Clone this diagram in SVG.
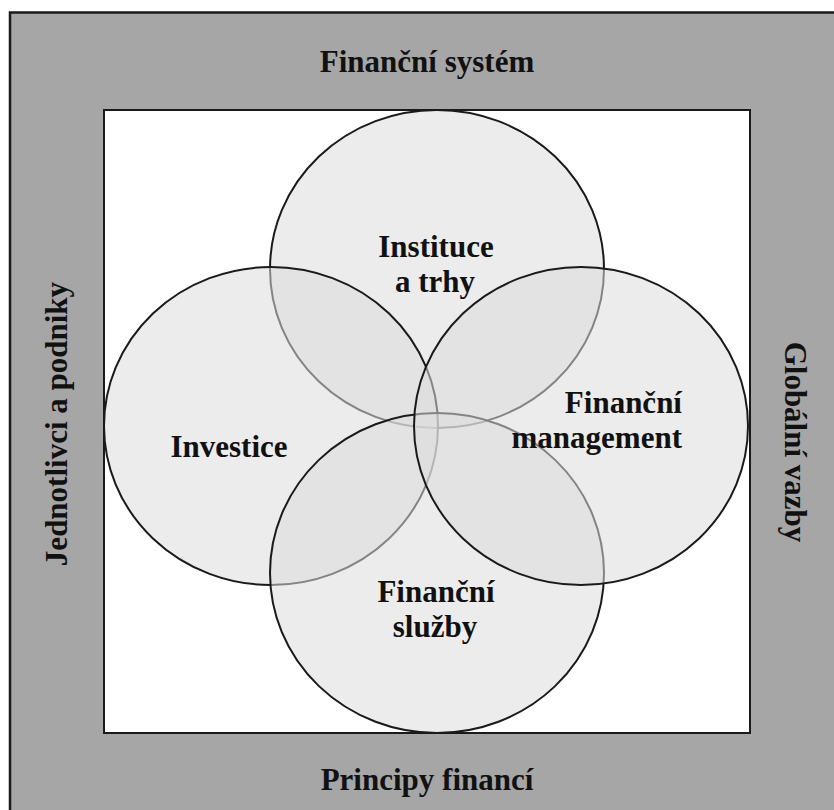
<svg xmlns="http://www.w3.org/2000/svg" width="834" height="810" viewBox="0 0 834 810">
<style>
  .lbl { font-family: "Liberation Serif", "Times New Roman", serif; font-weight: bold; font-size: 31px; fill: #111; text-anchor: middle; }
  .end { text-anchor: end; }
  .set { fill: #dcdcdc; fill-opacity: 0.55; stroke: #1a1a1a; stroke-width: 2; }
</style>
<rect width="834" height="810" fill="#ffffff"/>
<g id="frame">
  <rect x="10" y="12.5" width="840" height="820" fill="#a6a6a6" stroke="#1a1a1a" stroke-width="2.5"/>
  <rect x="104" y="110" width="646" height="623" fill="#ffffff" stroke="#1a1a1a" stroke-width="2"/>
  <text class="lbl" x="427" y="72">Finanční systém</text>
  <text class="lbl" x="427" y="790">Principy financí</text>
  <text class="lbl" transform="translate(67,424) rotate(-90)">Jednotlivci a podniky</text>
  <text class="lbl" transform="translate(785,442) rotate(90)">Globální vazby</text>
</g>
<g id="connectors"></g>
<g id="node-instituce">
  <ellipse class="set" cx="437" cy="269" rx="167" ry="159"/>
</g>
<g id="node-investice">
  <ellipse class="set" cx="271" cy="426" rx="167" ry="159"/>
</g>
<g id="node-sluzby">
  <ellipse class="set" cx="437" cy="573" rx="167" ry="160"/>
</g>
<g id="node-management">
  <ellipse class="set" cx="581" cy="426" rx="167" ry="159"/>
</g>
<g id="labels">
  <text class="lbl" x="436" y="257">Instituce</text>
  <text class="lbl" x="435" y="292">a trhy</text>
  <text class="lbl" x="229" y="457">Investice</text>
  <text class="lbl end" x="682" y="413">Finanční</text>
  <text class="lbl end" x="682" y="448">management</text>
  <text class="lbl" x="436" y="602">Finanční</text>
  <text class="lbl" x="435" y="637">služby</text>
</g>
</svg>
